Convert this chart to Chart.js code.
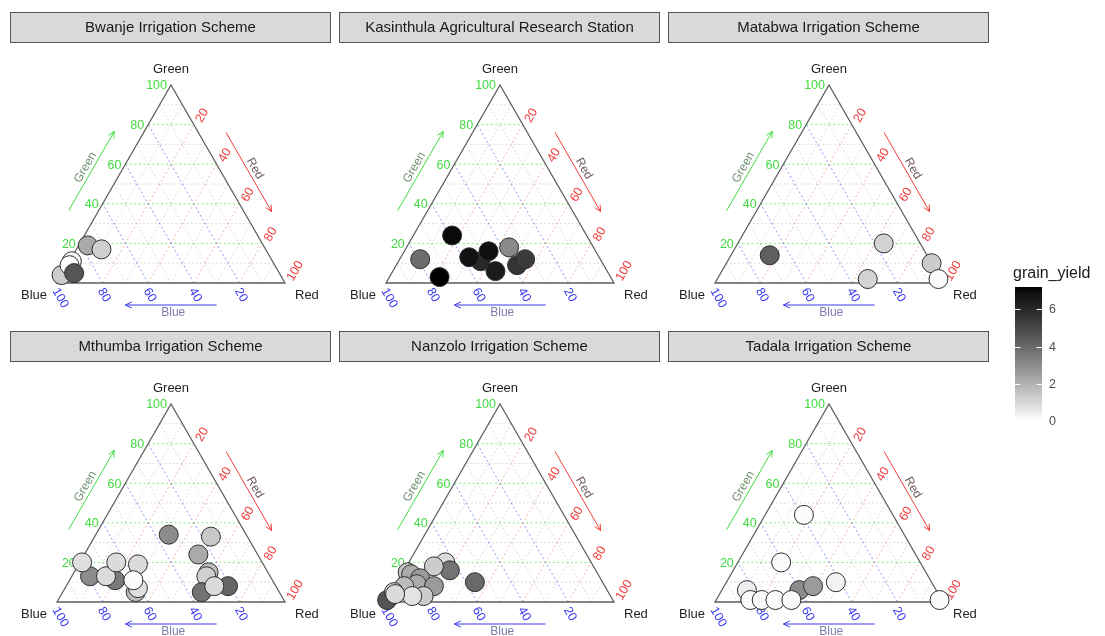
<!DOCTYPE html>
<html>
<head>
<meta charset="utf-8">
<script src="https://cdn.jsdelivr.net/npm/chart.js@4.4.0/dist/chart.umd.min.js"></script>
<style>
  html, body { margin: 0; padding: 0; background: #fff; }
  #wrap { position: relative; width: 1105px; height: 636px; overflow: hidden; }
  #wrap canvas { position: absolute; }
</style>
</head>
<body>
<div id="wrap"></div>
<script>
'use strict';

// facet titles, in row order
let sites = [
  'Bwanje Irrigation Scheme',
  'Kasinthula Agricultural Research Station',
  'Matabwa Irrigation Scheme',
  'Mthumba Irrigation Scheme',
  'Nanzolo Irrigation Scheme',
  'Tadala Irrigation Scheme'
];

// composition (%) and grain yield per field
let bwanjeRed = [4, 11, 1, 0, 1, 5];
let bwanjeGreen = [19, 17, 11, 4, 9, 5];
let bwanjeBlue = [77, 72, 88, 96, 90, 90];
let bwanjeYield = [2.2, 1.2, 0.2, 1.3, 0.0, 4.6];

let kasinthulaRed = [9, 17, 22, 36, 30, 45, 37, 45, 53, 55];
let kasinthulaGreen = [12, 24, 3, 11, 13, 18, 16, 6, 9, 12];
let kasinthulaBlue = [79, 59, 75, 53, 57, 37, 47, 49, 38, 33];
let kasinthulaYield = [3.9, 7.0, 7.2, 6.0, 6.8, 3.1, 6.9, 6.5, 5.6, 5.4];

let matabwaRed = [17, 64, 66, 90, 97];
let matabwaGreen = [14, 20, 2, 10, 2];
let matabwaBlue = [69, 16, 32, 0, 1];
let matabwaYield = [4.3, 1.1, 1.1, 1.3, 0.1];

let mthumbaRed = [8, 20, 15, 16, 1, 26, 32, 32, 28, 32, 51, 50, 59, 59, 61, 71, 65];
let mthumbaGreen = [13, 11, 13, 20, 20, 19, 5, 7, 11, 34, 33, 24, 15, 13, 5, 8, 8];
let mthumbaBlue = [79, 69, 72, 64, 79, 55, 63, 61, 61, 34, 16, 26, 26, 28, 34, 21, 27];
let mthumbaYield = [3.0, 3.5, 0.9, 0.9, 0.8, 0.9, 1.7, 0.8, 0.1, 3.0, 1.4, 2.2, 1.7, 1.2, 3.7, 4.1, 0.9];

let nanzoloRed = [16, 20, 12, 2, 4, 9, 9, 17, 4, 34, 15, 10, 0, 1, 2];
let nanzoloGreen = [20, 16, 18, 15, 14, 12, 9, 8, 8, 10, 3, 3, 1, 5, 4];
let nanzoloBlue = [64, 64, 70, 83, 82, 79, 82, 75, 88, 56, 82, 87, 99, 94, 94];
let nanzoloYield = [0.9, 3.7, 1.3, 1.4, 2.2, 2.6, 2.2, 2.6, 1.7, 4.0, 1.3, 0.7, 4.6, 1.0, 0.9];

let tadalaRed = [11, 15, 20, 26, 34, 39, 33, 48, 19, 17, 98];
let tadalaGreen = [6, 1, 1, 1, 6, 8, 1, 10, 20, 44, 1];
let tadalaBlue = [83, 84, 79, 73, 60, 53, 66, 42, 61, 39, 1];
let tadalaYield = [0.4, 0.1, 0.1, 0.1, 3.0, 2.6, 0.1, 0.3, 0.1, 0.1, 0.1];

let siteRed = [bwanjeRed, kasinthulaRed, matabwaRed, mthumbaRed, nanzoloRed, tadalaRed];
let siteGreen = [bwanjeGreen, kasinthulaGreen, matabwaGreen, mthumbaGreen, nanzoloGreen, tadalaGreen];
let siteBlue = [bwanjeBlue, kasinthulaBlue, matabwaBlue, mthumbaBlue, nanzoloBlue, tadalaBlue];
let siteYield = [bwanjeYield, kasinthulaYield, matabwaYield, mthumbaYield, nanzoloYield, tadalaYield];

let majorTicks = [20, 40, 60, 80, 100];
let legendTicks = [0, 2, 4, 6];

let allYields = [].concat(...siteYield);
let yieldMin = Math.min(...allYields);
let yieldMax = Math.max(...allYields);

const SQ3 = Math.sqrt(3);
const FONT = '"Liberation Sans", Arial, sans-serif';

let panelLeft = [10, 339, 668];
let panelTop = [12, 331];
let panelW = 321;
let panelH = 308;

let colGreen = '#3fdc3f';
let colRed = '#f03c3c';
let colBlue = '#3a3af0';

// ternary composition -> cartesian, Red vertex at right, Green at top
function toXY(r, g, b) {
  let total = r + g + b;
  return { x: 100 * (r + g / 2) / total, y: 100 * (g * SQ3 / 2) / total };
}

// white -> black through CIE L*
function yieldColour(v) {
  let t = (v - yieldMin) / (yieldMax - yieldMin);
  let L = 100 * (1 - t);
  let Y = L > 8 ? Math.pow((L + 16) / 116, 3) : L / 903.3;
  let c = Y <= 0.0031308 ? 12.92 * Y : 1.055 * Math.pow(Y, 1 / 2.4) - 0.055;
  let g = Math.max(0, Math.min(255, Math.round(255 * c)));
  return `rgb(${g},${g},${g})`;
}

let ternaryFrame = {
  id: 'ternaryFrame',
  beforeDraw(chart, args, opts) {
    let ctx = chart.ctx;
    ctx.save();
    ctx.fillStyle = '#d9d9d9';
    ctx.fillRect(0.5, 0.5, chart.width - 1, 30);
    ctx.strokeStyle = '#555555';
    ctx.lineWidth = 1;
    ctx.strokeRect(0.5, 0.5, chart.width - 1, 30);
    ctx.fillStyle = '#1a1a1a';
    ctx.font = '15px ' + FONT;
    ctx.textAlign = 'center';
    ctx.textBaseline = 'middle';
    ctx.fillText(opts.title, chart.width / 2, 16);
    ctx.restore();
  },
  beforeDatasetsDraw(chart) {
    let ctx = chart.ctx;
    let sx = chart.scales.x;
    let sy = chart.scales.y;
    let pt = (r, g) => {
      let p = toXY(r, g, 100 - r - g);
      return [sx.getPixelForValue(p.x), sy.getPixelForValue(p.y)];
    };
    let seg = (a, b) => {
      ctx.beginPath();
      ctx.moveTo(a[0], a[1]);
      ctx.lineTo(b[0], b[1]);
      ctx.stroke();
    };
    ctx.save();
    ctx.lineWidth = 1;

    // minor grid
    ctx.setLineDash([1.5, 2.5]);
    ctx.strokeStyle = 'rgba(175,175,175,0.55)';
    for (let v = 10; v < 100; v += 20) {
      seg(pt(0, v), pt(100 - v, v));
      seg(pt(v, 0), pt(v, 100 - v));
      seg(pt(v, 0), pt(0, v));
    }
    // major grid
    ctx.setLineDash([2, 2.5]);
    for (let v = 20; v < 100; v += 20) {
      ctx.strokeStyle = 'rgba(90,225,90,0.75)';
      seg(pt(0, v), pt(100 - v, v));
      ctx.strokeStyle = 'rgba(245,120,120,0.6)';
      seg(pt(v, 0), pt(v, 100 - v));
      ctx.strokeStyle = 'rgba(100,100,240,0.7)';
      seg(pt(100 - v, 0), pt(0, 100 - v));
    }

    // triangle outline
    ctx.setLineDash([]);
    ctx.strokeStyle = '#5e5e5e';
    ctx.lineWidth = 1.3;
    let vB = pt(0, 0), vR = pt(100, 0), vG = pt(0, 100);
    ctx.beginPath();
    ctx.moveTo(vB[0], vB[1]);
    ctx.lineTo(vR[0], vR[1]);
    ctx.lineTo(vG[0], vG[1]);
    ctx.closePath();
    ctx.stroke();

    // vertex titles
    ctx.fillStyle = '#1f1f1f';
    ctx.font = '13px ' + FONT;
    ctx.textBaseline = 'middle';
    ctx.textAlign = 'center';
    ctx.fillText('Green', vG[0], vG[1] - 16);
    ctx.textAlign = 'right';
    ctx.fillText('Blue', vB[0] - 10, vB[1] + 12);
    ctx.textAlign = 'left';
    ctx.fillText('Red', vR[0] + 10, vR[1] + 12);

    // tick labels
    ctx.font = '12.5px ' + FONT;
    majorTicks.forEach(v => {
      let p = pt(0, v);
      ctx.fillStyle = colGreen;
      ctx.textAlign = 'right';
      ctx.fillText(String(v), p[0] - 4, p[1] + 1);

      p = pt(v, 100 - v);
      ctx.save();
      ctx.fillStyle = colRed;
      ctx.translate(p[0] + 5, p[1] - 3);
      ctx.rotate(-Math.PI / 3);
      ctx.textAlign = 'left';
      ctx.fillText(String(v), 0, 0);
      ctx.restore();

      p = pt(100 - v, 0);
      ctx.save();
      ctx.fillStyle = colBlue;
      ctx.translate(p[0] - 2, p[1] + 6);
      ctx.rotate(Math.PI / 3);
      ctx.textAlign = 'left';
      ctx.fillText(String(v), 0, 0);
      ctx.restore();
    });

    // axis arrows, offset outward from each edge, 30% to 70% along it
    let arrow = (a, b, col) => {
      ctx.strokeStyle = col;
      ctx.lineWidth = 1;
      seg(a, b);
      let ang = Math.atan2(b[1] - a[1], b[0] - a[0]);
      let len = 7;
      [0.45, -0.45].forEach(d => {
        seg(b, [b[0] - len * Math.cos(ang + d), b[1] - len * Math.sin(ang + d)]);
      });
    };
    let off = (p, n, d) => [p[0] + n[0] * d, p[1] + n[1] * d];
    let nLeft = [-SQ3 / 2, -0.5];
    let nRight = [SQ3 / 2, -0.5];
    let nBottom = [0, 1];

    arrow(off(pt(0, 30), nLeft, 26), off(pt(0, 70), nLeft, 26), colGreen);
    arrow(off(pt(30, 70), nRight, 24), off(pt(70, 30), nRight, 24), colRed);
    arrow(off(pt(70, 0), nBottom, 22), off(pt(30, 0), nBottom, 22), colBlue);

    ctx.font = '12px ' + FONT;
    ctx.textAlign = 'center';
    let p = off(pt(0, 50), nLeft, 33);
    ctx.save();
    ctx.fillStyle = '#6f8f6f';
    ctx.translate(p[0], p[1]);
    ctx.rotate(-Math.PI / 3);
    ctx.fillText('Green', 0, 0);
    ctx.restore();

    p = off(pt(50, 50), nRight, 31);
    ctx.save();
    ctx.fillStyle = '#725e5e';
    ctx.translate(p[0], p[1]);
    ctx.rotate(Math.PI / 3);
    ctx.fillText('Red', 0, 0);
    ctx.restore();

    p = off(pt(51, 0), nBottom, 30);
    ctx.fillStyle = '#7d7db0';
    ctx.fillText('Blue', p[0], p[1]);

    ctx.restore();
  }
};

let wrap = document.getElementById('wrap');

function addCanvas(left, top, w, h) {
  let canvas = document.createElement('canvas');
  canvas.width = w;
  canvas.height = h;
  canvas.style.left = left + 'px';
  canvas.style.top = top + 'px';
  canvas.style.width = w + 'px';
  canvas.style.height = h + 'px';
  wrap.appendChild(canvas);
  return canvas;
}

sites.forEach((site, i) => {
  let canvas = addCanvas(panelLeft[i % 3], panelTop[Math.floor(i / 3)], panelW, panelH);
  let red = siteRed[i];
  let green = siteGreen[i];
  let blue = siteBlue[i];
  let yields = siteYield[i];

  new Chart(canvas, {
    type: 'scatter',
    data: {
      datasets: [{
        data: red.map((r, k) => toXY(r, green[k], blue[k])),
        backgroundColor: yields.map(yieldColour),
        borderColor: '#2e2e2e',
        borderWidth: 1,
        pointRadius: 9.5,
        pointHoverRadius: 9.5,
        clip: false
      }]
    },
    options: {
      responsive: false,
      animation: false,
      devicePixelRatio: 1,
      events: [],
      layout: { padding: { left: 47, right: 46, top: 73, bottom: 37 } },
      scales: {
        x: { type: 'linear', min: 0, max: 100, display: false },
        y: { type: 'linear', min: 0, max: 50 * SQ3, display: false }
      },
      plugins: {
        legend: { display: false },
        tooltip: { enabled: false },
        ternaryFrame: { title: site }
      }
    },
    plugins: [ternaryFrame]
  });
});

// colour bar for grain_yield
let colourBar = {
  id: 'colourBar',
  beforeDraw(chart) {
    let ctx = chart.ctx;
    let area = chart.chartArea;
    let sy = chart.scales.y;
    ctx.save();
    ctx.fillStyle = '#1a1a1a';
    ctx.font = '16px ' + FONT;
    ctx.textAlign = 'left';
    ctx.textBaseline = 'middle';
    ctx.fillText('grain_yield', 8, 19);

    let grad = ctx.createLinearGradient(0, area.bottom, 0, area.top);
    for (let s = 0; s <= 20; s++) {
      let v = yieldMin + (yieldMax - yieldMin) * s / 20;
      grad.addColorStop(s / 20, yieldColour(v));
    }
    ctx.fillStyle = grad;
    ctx.fillRect(area.left, area.top, area.right - area.left, area.bottom - area.top);

    let w = area.right - area.left;
    ctx.strokeStyle = '#ffffff';
    ctx.lineWidth = 1;
    ctx.fillStyle = '#4d4d4d';
    ctx.font = '12.5px ' + FONT;
    legendTicks.forEach(v => {
      let y = Math.round(sy.getPixelForValue(v)) + 0.5;
      ctx.beginPath();
      ctx.moveTo(area.left, y);
      ctx.lineTo(area.left + w / 5, y);
      ctx.moveTo(area.right - w / 5, y);
      ctx.lineTo(area.right, y);
      ctx.stroke();
      ctx.fillText(String(v), area.right + 7, y);
    });
    ctx.restore();
  }
};

new Chart(addCanvas(1005, 255, 100, 180), {
  type: 'scatter',
  data: { datasets: [] },
  options: {
    responsive: false,
    animation: false,
    devicePixelRatio: 1,
    events: [],
    layout: { padding: { left: 10, right: 63, top: 32, bottom: 14 } },
    scales: {
      x: { type: 'linear', min: 0, max: 1, display: false },
      y: { type: 'linear', min: yieldMin, max: yieldMax, display: false }
    },
    plugins: { legend: { display: false }, tooltip: { enabled: false } }
  },
  plugins: [colourBar]
});
</script>
</body>
</html>
